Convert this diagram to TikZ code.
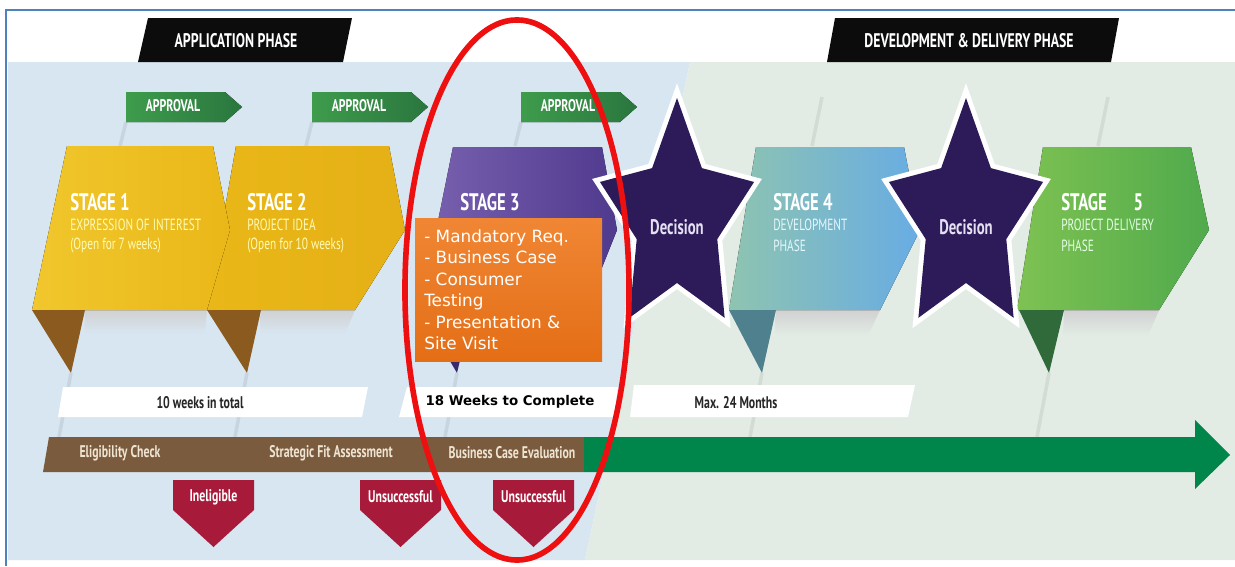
\documentclass[tikz,border=0pt]{standalone}
\usepackage{fontspec}
\setmainfont{DejaVu Sans}
\newfontfamily\condfont[FakeStretch=0.7]{PT Sans}

\definecolor{framecol}{RGB}{79,129,189}
\definecolor{bgblue}{RGB}{216,230,242}
\definecolor{bggreen}{RGB}{226,236,229}
\definecolor{tabblack}{RGB}{12,12,12}
\definecolor{apprA}{RGB}{62,156,76}
\definecolor{apprB}{RGB}{42,118,62}
\definecolor{yelA}{RGB}{240,199,45}
\definecolor{yelB}{RGB}{234,183,24}
\definecolor{yelC}{RGB}{228,176,22}
\definecolor{brownfold}{RGB}{138,90,30}
\definecolor{purA}{RGB}{122,98,176}
\definecolor{purB}{RGB}{80,58,142}
\definecolor{purfold}{RGB}{58,42,108}
\definecolor{bluA}{RGB}{142,196,176}
\definecolor{bluB}{RGB}{104,172,228}
\definecolor{tealfold}{RGB}{78,128,142}
\definecolor{grnA}{RGB}{126,194,82}
\definecolor{grnB}{RGB}{80,170,76}
\definecolor{grnfold}{RGB}{48,106,58}
\definecolor{starpurple}{RGB}{45,27,89}
\definecolor{startext}{RGB}{228,224,242}
\definecolor{orA}{RGB}{240,134,52}
\definecolor{orB}{RGB}{228,110,22}
\definecolor{barbrown}{RGB}{123,91,62}
\definecolor{barlab}{RGB}{238,228,210}
\definecolor{arrowgreen}{RGB}{0,133,74}
\definecolor{rejectred}{RGB}{168,26,58}
\definecolor{ringred}{RGB}{238,16,16}

\begin{document}
\begin{tikzpicture}[x=0.025cm, y=-0.025cm,
	cond/.style={font=\condfont\bfseries\fontsize{12}{14}\selectfont},
	tabtext/.style={text=white, font=\condfont\bfseries\fontsize{14}{16}\selectfont},
	stagetitle/.style={anchor=west, inner sep=0pt, text=white, font=\condfont\bfseries\fontsize{17}{19}\selectfont},
	stagesub/.style={anchor=west, inner sep=0pt, font=\condfont\fontsize{11.5}{13}\selectfont},
	decision/.style={text=startext, font=\condfont\bfseries\fontsize{15}{17}\selectfont},
	barlabel/.style={cond, text=barlab},
	weeklabel/.style={cond, text=black!85},
	reject/.style={cond, text=white},
	foldline/.style={draw=black, opacity=0.07, line width=2.5pt},
	]
\useasboundingbox (0,0) rectangle (1235,566);

% background and frame
\fill[white] (0,0) rectangle (1235,566);
\fill[bgblue] (8,62) -- (690,62) -- (585,560) -- (8,560) -- cycle;
\fill[bggreen] (690,62) -- (1235,62) -- (1235,560) -- (585,560) -- cycle;
\draw[framecol, line width=1.3pt] (6,566) -- (6,10) -- (1235,10);

% phase tabs
\fill[tabblack] (148,18) -- (352,18) -- (343,62) -- (138,62) -- cycle;
\node[tabtext] (apptab) at (236,41) {APPLICATION PHASE};
\fill[tabblack] (835,18) -- (1119,18) -- (1111,62) -- (827,62) -- cycle;
\node[tabtext] (devtab) at (969,41) {DEVELOPMENT \& DELIVERY PHASE};

% fold shading
\foreach \x in {126,312,521}
	\draw[foldline] (\x,122) -- (\x-6,146);
\draw[foldline] (822,97) -- (812,146);
\draw[foldline] (1108,97) -- (1098,146);
\foreach \x in {71,247,457,762,1049}
	\draw[foldline] (\x,373) -- (\x-12,437);

% approval tabs
\foreach \x [count=\i] in {126,312,521} {
	\fill[left color=apprA, right color=apprB] (\x,92) -- ++(99,0) -- ++(17,15) -- ++(-17,15) -- ++(-99,0) -- cycle;
	\node[cond, text=white] (approval\i) at (\x+47,106) {APPROVAL};
}

% shadows below the stages
\shade[top color=black!18, bottom color=bgblue] (85,310) -- (207,310) -- (205,334) -- (84,334) -- cycle;
\shade[top color=black!18, bottom color=bgblue] (261,310) -- (355,310) -- (345,334) -- (260,334) -- cycle;
\shade[top color=black!18, bottom color=bggreen] (776,310) -- (880,310) -- (868,336) -- (775,336) -- cycle;
\shade[top color=black!18, bottom color=bggreen] (1064,310) -- (1159,310) -- (1148,336) -- (1063,336) -- cycle;

% stages
\fill[left color=yelB, right color=yelC] (236,146) -- (389,146) -- (405,230) -- (355,310) -- (207,310) -- cycle;
\fill[left color=yelA, right color=yelB] (67,146) -- (213,146) -- (230,230) -- (207,310) -- (32,310) -- cycle;
\fill[brownfold] (32,310) -- (85,310) -- (71,373) -- cycle;
\fill[brownfold] (207,310) -- (261,310) -- (247,373) -- cycle;
\fill[left color=purA, right color=purB] (453,147) -- (602,147) -- (617,230) -- (585,310) -- (420,310) -- cycle;
\fill[purfold] (420,310) -- (472,310) -- (457,373) -- cycle;
\fill[left color=bluA, right color=bluB] (756,147) -- (904,147) -- (920,230) -- (880,310) -- (729,310) -- cycle;
\fill[tealfold] (729,310) -- (776,310) -- (762,373) -- cycle;
\fill[left color=grnA, right color=grnB] (1043,147) -- (1191,147) -- (1209,230) -- (1159,310) -- (1017,310) -- cycle;
\fill[grnfold] (1019,310) -- (1064,310) -- (1049,373) -- cycle;

\node[stagetitle] (stage1) at (70,202) {STAGE 1};
\node[stagesub, text=yellow!30] (stage1a) at (70,225) {EXPRESSION OF INTEREST};
\node[stagesub, text=yellow!30] (stage1b) at (70,246) {(Open for 7 weeks)};
\node[stagetitle] (stage2) at (247,202) {STAGE 2};
\node[stagesub, text=yellow!30] (stage2a) at (247,225) {PROJECT IDEA};
\node[stagesub, text=yellow!30] (stage2b) at (247,246) {(Open for 10 weeks)};
\node[stagetitle] (stage3) at (460,202) {STAGE 3};
\node[stagetitle] (stage4) at (773,202) {STAGE 4};
\node[stagesub, text=cyan!10] (stage4a) at (773,225) {DEVELOPMENT};
\node[stagesub, text=cyan!10] (stage4b) at (773,246) {PHASE};
\node[stagetitle] (stage5) at (1061,202) {STAGE\hspace{19pt}5};
\node[stagesub, text=green!10] (stage5a) at (1061,225) {PROJECT DELIVERY};
\node[stagesub, text=green!10] (stage5b) at (1061,246) {PHASE};

% stage 3 requirements
\fill[top color=orA, bottom color=orB] (415,218) rectangle (602,361);
\node[anchor=north west, inner sep=0pt, align=left, text=white,
	font=\fontsize{12}{15.3}\selectfont] (req) at (424,229)
	{- Mandatory Req.\\- Business Case\\- Consumer\\Testing\\- Presentation \&\\Site Visit};

% decision stars
\foreach \cx/\nm in {677/decA, 966/decB} {
	\begin{scope}[shift={(\cx,219.5)}, xscale=0.667]
		\fill[starpurple, preaction={draw=white, line width=7pt}] (-90:121.5) -- (-54:63.5) -- (-18:121.5) -- (18:63.5) -- (54:121.5) -- (90:63.5) -- (126:121.5) -- (162:63.5) -- (198:121.5) -- (234:63.5) -- cycle;
	\end{scope}
	\node[decision] (\nm) at (\cx,227) {Decision};
}

% duration bars
\fill[white] (63,387) -- (368,387) -- (362,417) -- (58,417) -- cycle;
\node[weeklabel] (dur1) at (200,403) {10 weeks in total};
\fill[white] (407,387) -- (618,387) -- (614,417) -- (399,417) -- cycle;
\node[text=black, font=\bfseries\fontsize{9.5}{11}\selectfont] (dur2) at (510,402) {18 Weeks to Complete};
\fill[white] (634,385) -- (915,385) -- (908,417) -- (630,417) -- cycle;
\node[weeklabel] (dur3) at (736,403) {Max. 24 Months};

% assessment bar and arrow
\fill[barbrown] (49,437) -- (584,437) -- (584,472) -- (43,472) -- cycle;
\fill[arrowgreen] (584,437) -- (1195,437) -- (1195,420) -- (1230,455) -- (1195,489) -- (1195,472) -- (584,472) -- cycle;
\node[barlabel] (check1) at (120,453) {Eligibility Check};
\node[barlabel] (check2) at (331,453) {Strategic Fit Assessment};
\node[barlabel] (check3) at (512,453) {Business Case Evaluation};

% rejections
\foreach \x/\txt [count=\i] in {173/Ineligible, 360/Unsuccessful, 493/Unsuccessful} {
	\fill[rejectred] (\x,480) -- ++(81,0) -- ++(0,30) -- ++(-40.5,37) -- ++(-40.5,-37) -- cycle;
	\node[reject] (reject\i) at (\x+40.5,497) {\txt};
}

% highlight
\draw[ringred, line width=4pt] (517,290) ellipse [x radius=2.8cm, y radius=6.75cm];
\end{tikzpicture}
\end{document}
